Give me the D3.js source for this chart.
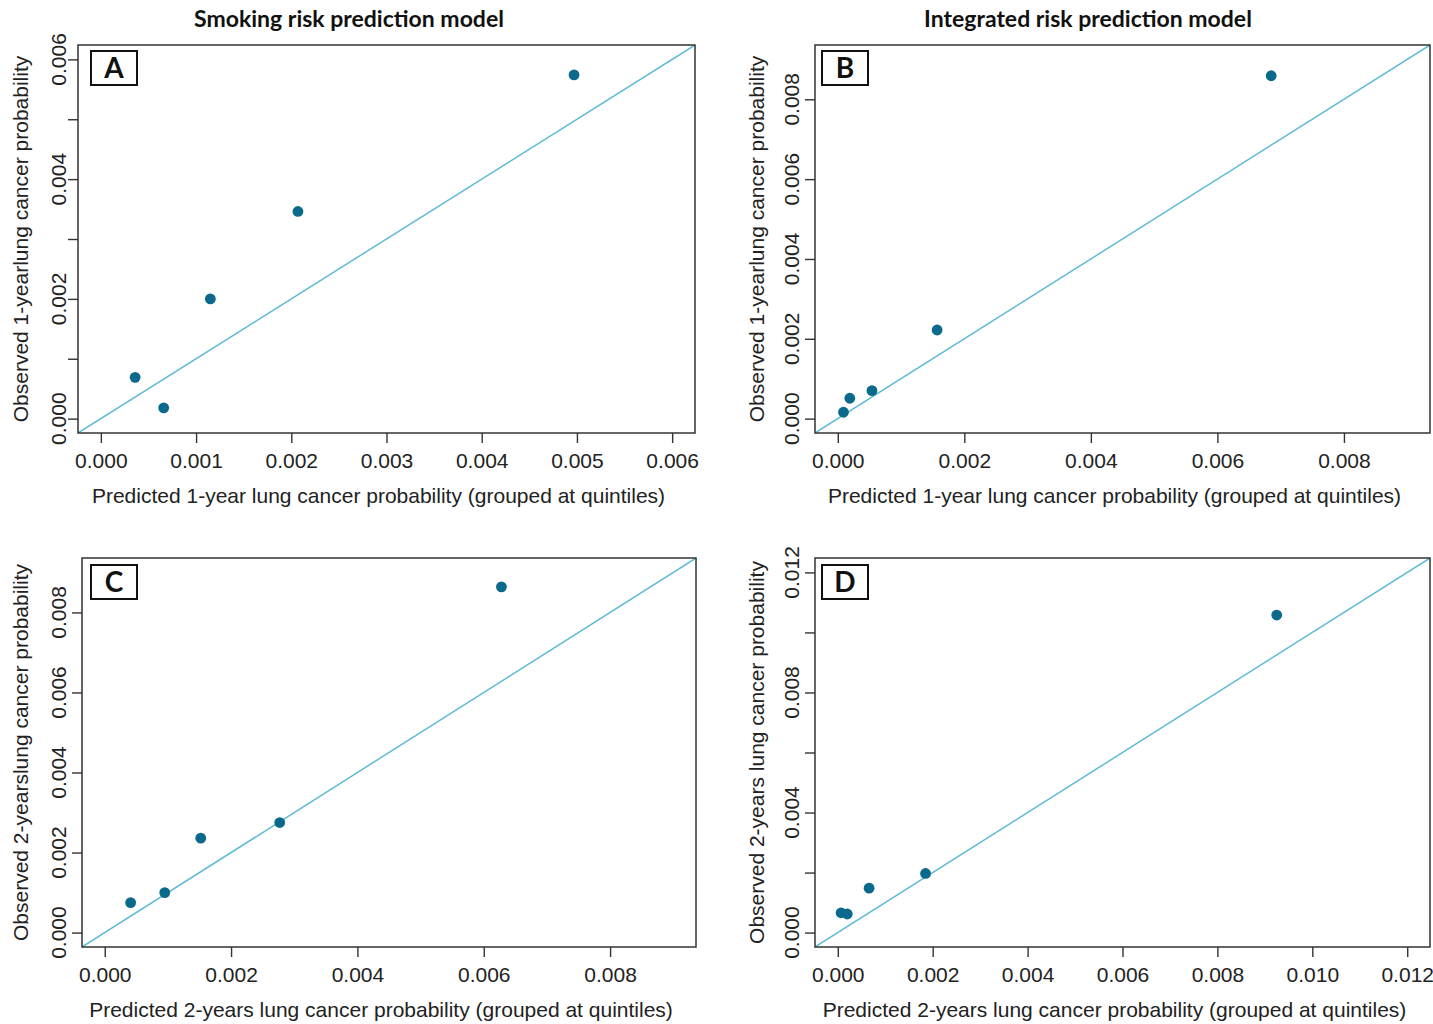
<!DOCTYPE html>
<html>
<head>
<meta charset="utf-8">
<script src="https://cdn.jsdelivr.net/npm/d3@7/dist/d3.min.js"></script>
<style>
  html, body { margin: 0; padding: 0; background: #ffffff; }
  svg { display: block; }
  .tick-label, .axis-title { font-family: "Liberation Sans", Arial, sans-serif; font-size: 21px; fill: #222; }
  .col-title { font-family: Lato, "Open Sans", sans-serif; font-weight: 700; font-size: 23px; fill: #111; }
  .panel-letter { font-family: Lato, "Open Sans", sans-serif; font-weight: 700; font-size: 28px; fill: #111; }
</style>
</head>
<body>
<svg id="chart" width="1433" height="1024"></svg>
<script>
// Calibration points: predicted vs observed lung cancer probability, grouped at quintiles
const panelLetters = ["A", "B", "C", "D"];
const columnTitles = ["Smoking risk prediction model", "Integrated risk prediction model"];

const predictedA = [0.00036, 0.00066, 0.00115, 0.00207, 0.00497];
const observedA  = [0.00069, 0.00018, 0.00200, 0.00346, 0.00574];

const predictedB = [0.00009, 0.00019, 0.00054, 0.00157, 0.00685];
const observedB  = [0.00016, 0.00051, 0.00070, 0.00222, 0.00859];

const predictedC = [0.00041, 0.00095, 0.00152, 0.00277, 0.00628];
const observedC  = [0.00075, 0.00100, 0.00236, 0.00275, 0.00864];

const predictedD = [0.00007, 0.00020, 0.00066, 0.00185, 0.00925];
const observedD  = [0.00066, 0.00062, 0.00148, 0.00197, 0.01058];

// Axis limits (before the usual 4% padding) and tick settings
const axisMax   = [0.006, 0.009, 0.009, 0.012];
const tickStep  = [0.001, 0.002, 0.002, 0.002];
const xLabelEvery = [1, 1, 1, 1];
const yLabelEvery = [2, 1, 1, 2];

const xTitles = [
  "Predicted 1-year lung cancer probability (grouped at quintiles)",
  "Predicted 1-year lung cancer probability (grouped at quintiles)",
  "Predicted 2-years lung cancer probability (grouped at quintiles)",
  "Predicted 2-years lung cancer probability (grouped at quintiles)"
];
const yTitles = [
  "Observed 1-yearlung cancer probability",
  "Observed 1-yearlung cancer probability",
  "Observed 2-yearslung cancer probability",
  "Observed 2-years lung cancer probability"
];

const predicted = [predictedA, predictedB, predictedC, predictedD];
const observed  = [observedA, observedB, observedC, observedD];

// Layout of the 2x2 grid
const boxes = [
  { left: 78,  right: 695,  top: 45,  bottom: 433, yLab: 66,  yTitle: 28,  letter: [91, 51] },
  { left: 815, right: 1430, top: 45,  bottom: 433, yLab: 799, yTitle: 764, letter: [822, 51] },
  { left: 82,  right: 696,  top: 558, bottom: 947, yLab: 66,  yTitle: 28,  letter: [91, 565] },
  { left: 815, right: 1430, top: 558, bottom: 947, yLab: 799, yTitle: 764, letter: [822, 565] }
];
const titleCenters = [349, 1088];
const xTitleShift = -8;

const pointColor = "#0b6a8c";
const lineColor = "#5fbbd5";
const frameColor = "#333";

const svg = d3.select("#chart");

// Column headers
svg.selectAll("text.col-title")
  .data(columnTitles)
  .join("text")
  .attr("class", "col-title")
  .attr("x", (d, i) => titleCenters[i])
  .attr("y", 27)
  .attr("text-anchor", "middle")
  .text(d => d);

panelLetters.forEach((letter, i) => {
  const b = boxes[i];
  const lim = axisMax[i];
  const pad = 0.04 * lim;
  const x = d3.scaleLinear().domain([-pad, lim + pad]).range([b.left, b.right]);
  const y = d3.scaleLinear().domain([-pad, lim + pad]).range([b.bottom, b.top]);
  const ticks = d3.range(0, lim + tickStep[i] / 2, tickStep[i]);
  const fmt = d3.format(".3f");

  const g = svg.append("g");

  // identity line across the full plotting region
  const clipId = "clip" + letter;
  svg.append("clipPath").attr("id", clipId)
    .append("rect")
    .attr("x", b.left).attr("y", b.top)
    .attr("width", b.right - b.left).attr("height", b.bottom - b.top);

  g.append("line")
    .attr("clip-path", `url(#${clipId})`)
    .attr("x1", x(-pad)).attr("y1", y(-pad))
    .attr("x2", x(lim + pad)).attr("y2", y(lim + pad))
    .attr("stroke", lineColor)
    .attr("stroke-width", 1.5);

  // observed vs predicted points
  const pts = predicted[i].map((p, k) => ({ p, o: observed[i][k] }));
  g.selectAll("circle")
    .data(pts)
    .join("circle")
    .attr("cx", d => x(d.p))
    .attr("cy", d => y(d.o))
    .attr("r", 5.4)
    .attr("fill", pointColor);

  // frame
  g.append("rect")
    .attr("x", b.left).attr("y", b.top)
    .attr("width", b.right - b.left).attr("height", b.bottom - b.top)
    .attr("fill", "none")
    .attr("stroke", frameColor)
    .attr("stroke-width", 1.5);

  // x axis ticks and labels
  const xAxis = d3.axisBottom(x)
    .tickValues(ticks)
    .tickSize(10)
    .tickFormat((d, k) => (k % xLabelEvery[i] === 0 ? fmt(d) : ""));
  const xg = g.append("g")
    .attr("transform", `translate(0,${b.bottom})`)
    .call(xAxis);
  xg.select(".domain").remove();
  xg.selectAll(".tick line").attr("stroke", frameColor).attr("stroke-width", 1.4);
  xg.selectAll(".tick text")
    .attr("class", "tick-label")
    .attr("y", 0)
    .attr("dy", 0)
    .attr("transform", "translate(0,35)")
    .attr("font-size", null)
    .attr("font-family", null)
    .attr("fill", "#222");

  // y axis ticks (labels placed separately so they can be rotated)
  const yAxis = d3.axisLeft(y)
    .tickValues(ticks)
    .tickSize(10)
    .tickFormat("");
  const yg = g.append("g")
    .attr("transform", `translate(${b.left},0)`)
    .call(yAxis);
  yg.select(".domain").remove();
  yg.selectAll(".tick line").attr("stroke", frameColor).attr("stroke-width", 1.4);

  g.selectAll("text.ylab")
    .data(ticks.filter((d, k) => k % yLabelEvery[i] === 0))
    .join("text")
    .attr("class", "tick-label ylab")
    .attr("text-anchor", "middle")
    .attr("transform", d => `translate(${b.yLab},${y(d)}) rotate(-90)`)
    .text(d => fmt(d));

  // axis titles
  g.append("text")
    .attr("class", "axis-title")
    .attr("text-anchor", "middle")
    .attr("x", (b.left + b.right) / 2 + xTitleShift)
    .attr("y", b.bottom + 70)
    .text(xTitles[i]);

  g.append("text")
    .attr("class", "axis-title")
    .attr("text-anchor", "middle")
    .attr("transform", `translate(${b.yTitle},${(b.top + b.bottom) / 2}) rotate(-90)`)
    .text(yTitles[i]);

  // panel letter in a framed box
  const [lx, ly] = b.letter;
  g.append("rect")
    .attr("x", lx).attr("y", ly)
    .attr("width", 46).attr("height", 34)
    .attr("fill", "#fff")
    .attr("stroke", "#111")
    .attr("stroke-width", 2);
  g.append("text")
    .attr("class", "panel-letter")
    .attr("x", lx + 23)
    .attr("y", ly + 27)
    .attr("text-anchor", "middle")
    .text(letter);
});
</script>
</body>
</html>
